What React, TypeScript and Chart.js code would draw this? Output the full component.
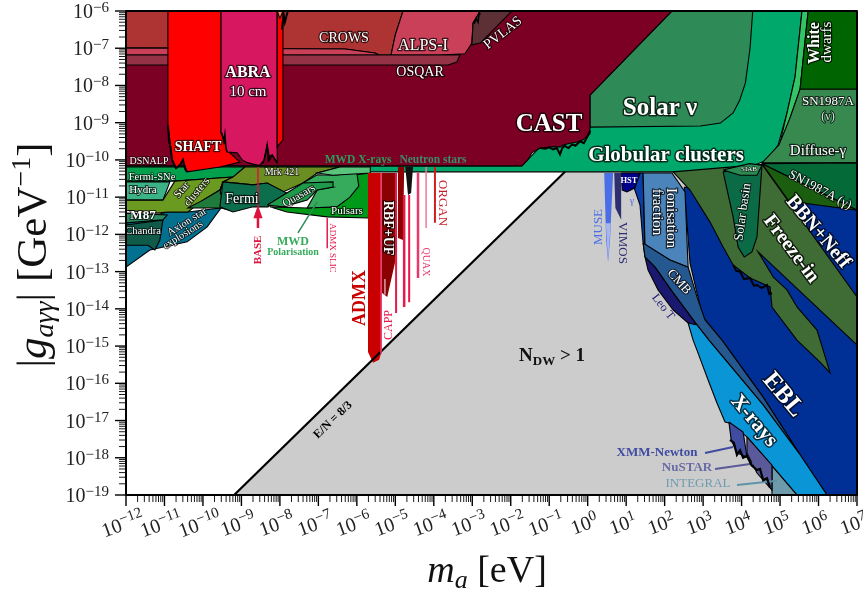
import React, { useEffect, useRef } from "react";
import { Chart, registerables } from "chart.js";
Chart.register(...registerables);

type P = [number, number];
// All regions: [log10(m_a / eV), log10(|g| / GeV^-1)]
const nDW: P[] = [[-9.19,-19],[-0.59,-10.32],[7,-10.32],[7,-19]];
const enLine: P[] = [[-9.19,-19],[-0.59,-10.32]];
const globular: P[] = [[-1.71,-10.16],[0.06,-8.26],[2.19,-6],[5.57,-6],[5.39,-7.77],[5.18,-8.74],[4.95,-9.6],[4.67,-10],[4.41,-10.11],[3.78,-10.27],[3.26,-10.32],[-12,-10.32],[-12,-10.16]];
const solarNu: P[] = [[0.06,-8.26],[2.19,-6],[4.29,-6],[4.22,-7],[4.1,-7.93],[3.95,-8.4],[3.78,-8.74],[3.45,-9.01],[2.93,-9.09],[0.06,-9.12]];
const hbStrip: P[] = [[5.57,-6],[5.73,-6],[5.52,-8.1],[5.26,-8.87],[4.97,-9.66],[5.18,-8.74],[5.39,-7.77]];
const whiteDwarfs: P[] = [[5.73,-6],[7,-6],[7,-8.1],[5.52,-8.1]];
const sn1987nu: P[] = [[5.52,-8.1],[7,-8.1],[7,-10.08],[4.53,-10.08],[4.97,-9.6],[5.26,-8.87]];
const sn1987gamma: P[] = [[4.53,-10.1],[7,-10.08],[7,-11.35]];
const bbn: P[] = [[4.53,-10.1],[7,-11.35],[7,-13.68]];
const ebl: P[] = [[2.51,-10.73],[7,-11.35],[7,-19],[6.22,-19],[5.52,-17.92],[4.56,-16.37],[3.49,-14.84],[3,-14.22],[2.84,-13.57],[2.66,-12.77]];
const freezeIn: P[] = [[2.22,-10.32],[4.53,-10.12],[7,-13.68],[7,-14.97],[4.43,-12.47],[4.82,-13.14],[5.18,-13.49],[5.44,-13.95],[5.96,-14.57],[6.12,-15.11],[6.3,-15.72],[6.04,-15.43],[5.44,-14.84],[4.79,-13.95],[4.74,-13.41],[4.22,-13.17],[3.78,-12.82],[3.52,-12.34],[3.18,-11.67],[2.66,-10.81]];
const solarBasin: P[] = [[3.52,-10.32],[3.78,-11.53],[3.91,-12.34],[4.07,-12.61],[4.27,-12.47],[4.4,-12.07],[4.53,-10.14]];
const siab: P[] = [[3.52,-10.27],[3.96,-10.41],[4.4,-10.41],[4.53,-10.14],[4.2,-10.1]];
const ionisation: P[] = [[1.44,-10.35],[2.19,-10.35],[2.53,-10.86],[2.61,-12.88],[2.14,-12.69],[1.49,-12.29]];
const cmb: P[] = [[1.44,-12.23],[2.14,-12.69],[2.61,-12.88],[2.84,-13.68],[3.05,-14.3],[3.49,-14.84],[4.56,-16.37],[5.52,-17.92],[4.56,-16.58],[3.15,-14.84],[2.84,-14.43],[2.22,-13.57],[1.75,-12.88],[1.49,-12.61]];
const leoT: P[] = [[1.49,-12.61],[1.75,-12.88],[2.22,-13.57],[2.84,-14.43],[2.61,-14.38],[2.22,-14.03],[1.83,-13.49],[1.57,-12.96]];
const gammaStrip: P[] = [[1.36,-10.35],[1.44,-10.35],[1.49,-12.61],[1.44,-12.23],[1.36,-11.21],[1.18,-10.67]];
const xRays: P[] = [[2.61,-14.38],[2.84,-14.43],[3.15,-14.84],[4.56,-16.58],[5.52,-17.92],[6.22,-19],[5.44,-19],[4.82,-18.25],[4.14,-17.44],[3.7,-17.07],[3.57,-17.04],[3.36,-16.53],[3.13,-15.91],[2.84,-15.11],[2.74,-14.84]];
const integral: P[] = [[4.79,-18.22],[5.44,-19],[4.79,-19]];
const nustar: P[] = [[4.14,-17.44],[4.79,-18.2],[4.79,-18.87],[4.4,-18.41],[4.14,-17.87]];
const xmm: P[] = [[3.67,-17.04],[4.04,-17.31],[4.14,-17.98],[3.88,-17.87],[3.73,-17.52]];
const hst: P[] = [[0.87,-10.35],[1.36,-10.35],[1.23,-10.75],[1.02,-10.86],[0.9,-10.81]];
const muse: P[] = [[0.43,-10.35],[0.66,-10.35],[0.58,-12.15],[0.53,-12.74],[0.48,-12.15]];
const museFade: P[] = [[0.47,-11.7],[0.6,-11.7],[0.53,-12.74]];
const vimos: P[] = [[0.69,-10.35],[0.87,-10.35],[0.87,-11.61],[0.72,-11.29]];
const fermiSNe: P[] = [[-12,-10.19],[-8.91,-10.19],[-9.22,-10.46],[-10.73,-10.57],[-12,-10.57]];
const mrk421: P[] = [[-8.91,-10.19],[-6.44,-10.19],[-7.03,-10.35],[-7.4,-10.62],[-7.92,-10.86],[-8.33,-10.62],[-8.7,-10.67],[-9.48,-10.59],[-9.22,-10.46]];
const starClusters: P[] = [[-12,-11.08],[-11.04,-11.08],[-10.73,-10.57],[-9.22,-10.46],[-9.48,-10.59],[-9.56,-10.81],[-10,-11.08],[-10.39,-11.4],[-10.93,-11.4],[-11.19,-11.43],[-12,-11.35]];
const hydra: P[] = [[-12,-10.59],[-10.86,-10.59],[-11.04,-11.08],[-12,-11.08]];
const starDark: P[] = [[-10,-11.08],[-9.56,-10.81],[-9.48,-10.59],[-9.55,-10.89],[-9.3,-11.35],[-9.53,-11.29],[-10.39,-11.29]];
const fermi: P[] = [[-9.48,-10.59],[-8.7,-10.67],[-8.33,-10.62],[-7.82,-10.89],[-8.31,-11.26],[-8.7,-11.26],[-9.22,-11.4],[-9.56,-11.26]];
const quasars: P[] = [[-8.33,-11.21],[-7.82,-10.89],[-7.4,-10.62],[-6.62,-10.59],[-6.62,-10.73],[-7.03,-10.81],[-7.29,-11.08],[-7.92,-11.26]];
const mwdPol: P[] = [[-6.62,-10.41],[-6,-10.35],[-5.95,-10.7],[-6.18,-11],[-6.52,-11.26],[-7.29,-11.29],[-7.03,-10.81],[-6.62,-10.73],[-7.4,-10.62],[-7.03,-10.4]];
const pulsars: P[] = [[-8.26,-11.26],[-7.29,-11.29],[-6.52,-11.26],[-6.1,-10.75],[-6.1,-10.41],[-5.65,-10.35],[-5.7,-11.56],[-6.77,-11.53],[-7.82,-11.4]];
const mwdXrays: P[] = [[-6.44,-10.19],[-5.65,-10.19],[-5.65,-10.35],[-6.62,-10.41],[-7.03,-10.35]];
const m87: P[] = [[-12,-11.43],[-10.93,-11.48],[-11.04,-11.61],[-12,-11.69]];
const axionStars: P[] = [[-12,-11.7],[-10.93,-11.4],[-10.39,-11.4],[-9.53,-11.29],[-9.89,-11.8],[-10.41,-12.2],[-11.38,-12.42],[-12,-12.88]];
const chandra: P[] = [[-12,-11.75],[-11.04,-11.61],[-11.12,-12.15],[-11.25,-12.42],[-11.43,-12.29],[-12,-12.29]];
const cast: P[] = [[-12,-6],[2.19,-6],[0.06,-8.26],[0.06,-9.3],[-0.12,-9.46],[-0.27,-9.52],[-0.45,-9.55],[-0.64,-9.6],[-0.71,-9.65],[-0.9,-9.65],[-1.24,-9.68],[-1.45,-9.81],[-1.56,-10],[-1.71,-10.16],[-12,-10.16]];
const crows: P[] = [[-12,-6],[-4.8,-6],[-5,-6.64],[-5.14,-7.32],[-5.53,-7.13],[-6.3,-7.02],[-12,-6.99]];
const alps: P[] = [[-12,-6.99],[-6.3,-7.02],[-5.53,-7.13],[-5.14,-7.32],[-5,-6.64],[-4.8,-6],[-2.79,-6],[-2.98,-6.32],[-3.01,-6.86],[-3.19,-7.15],[-3.84,-7.18],[-12,-7.18]];
const osqar: P[] = [[-12,-7.18],[-3.32,-7.18],[-3.4,-7.37],[-3.63,-7.45],[-12,-7.45]];
const pvlas: P[] = [[-2.79,-6],[-1.97,-6],[-2.79,-6.86],[-3.01,-6.91],[-2.98,-6.32]];
const shaft: P[] = [[-10.91,-6],[-9.53,-6],[-9.53,-9.28],[-9.3,-9.81],[-9.04,-10.06],[-9.56,-10.19],[-10.41,-10.32],[-10.52,-10],[-10.6,-10.14],[-10.7,-10.22],[-10.8,-10],[-10.86,-9.46],[-10.91,-9.06]];
const abra: P[] = [[-9.53,-6],[-8.07,-6],[-8.07,-10.08],[-8.2,-9.87],[-8.26,-10],[-8.33,-9.6],[-8.41,-10],[-8.52,-10.14],[-8.59,-10.14],[-8.83,-10.08],[-8.98,-10],[-9.11,-9.81],[-9.37,-9.79],[-9.43,-9.55],[-9.51,-9.28]];
const shaftStrip: P[] = [[-8.07,-6],[-7.92,-6],[-7.92,-9.46],[-8.07,-9.65]];
const orangeTip: P[] = [[-8.07,-6],[-7.92,-6],[-8,-6.2]];
const admx: P[] = [[-5.71,-10.35],[-5.37,-10.35],[-5.37,-15.19],[-5.42,-15.37],[-5.58,-15.45],[-5.71,-15.16]];
const rbfUf: P[] = [[-5.35,-10.35],[-4.96,-10.35],[-5.01,-12.77],[-5.21,-13.68],[-5.35,-13.57]];
const darkHaloscope: P[] = [[-4.93,-10.19],[-4.77,-10.19],[-4.8,-12.15],[-4.93,-12.1]];
const blackHaloscope: P[] = [[-4.74,-10.19],[-4.54,-10.19],[-4.59,-10.89],[-4.67,-10.94]];

// Vertical limits and annotation lines
const capp1: P[] = [[-4.98,-10.35],[-4.98,-14.11]];
const capp2: P[] = [[-4.77,-10.94],[-4.77,-13.95]];
const capp3: P[] = [[-4.64,-10.94],[-4.64,-13.82]];
const capp4: P[] = [[-5.27,-13.2],[-5.27,-13.62]];
const capp5: P[] = [[-5.37,-10.35],[-5.37,-15.2]];
const quax1: P[] = [[-4.41,-10.35],[-4.41,-13.17]];
const quax2: P[] = [[-4.2,-10.19],[-4.2,-11.83]];
const organ: P[] = [[-3.97,-10.19],[-3.97,-11.69]];
const admxSlic: P[] = [[-6.77,-11.56],[-6.77,-12.37]];
const baseLine: P[] = [[-8.57,-10.19],[-8.57,-11.26]];
const baseTail: P[] = [[-8.57,-11.4],[-8.57,-11.83]];
const baseHead: P[] = [[-8.57,-11.26],[-8.67,-11.55],[-8.47,-11.55]];
const mwdLeader: P[] = [[-7.53,-11.96],[-7.03,-11.13]];
const xmmLeader: P[] = [[3.05,-17.87],[3.78,-17.71]];
const nustarLeader: P[] = [[3.31,-18.3],[4.4,-18.14]];
const integralLeader: P[] = [[3.88,-18.73],[4.92,-18.62]];
const castNoise: P[] = [[-1.24,-9.68],[-1.1,-9.7],[-1,-9.66],[-0.9,-9.72],[-0.8,-9.68],[-0.72,-9.85],[-0.66,-9.68],[-0.6,-9.62],[-0.5,-9.68],[-0.4,-9.58],[-0.32,-9.62],[-0.2,-9.5],[-0.1,-9.55],[0,-9.36],[0.06,-9.22]];
const eblNoise: P[] = [[3.78,-12.82],[3.86,-12.98],[3.96,-13],[4.06,-13.2],[4.22,-13.17],[4.32,-13.38],[4.4,-13.36],[4.52,-13.44],[4.66,-13.36],[4.72,-13.6],[4.79,-13.58]];
const xrayNoise: P[] = [[3.7,-17.52],[3.8,-17.6],[3.88,-17.92],[3.96,-17.8],[4.04,-18],[4.14,-17.95],[4.26,-18.2],[4.4,-18.33],[4.48,-18.3],[4.56,-18.6],[4.66,-18.55],[4.74,-18.8]];
const shaftNoise: P[] = [[-10.91,-9.06],[-10.88,-9.5],[-10.84,-9.7],[-10.8,-10],[-10.7,-10.22],[-10.6,-10.14],[-10.52,-10],[-10.46,-10.25],[-10.41,-10.32]];
const abraNoise: P[] = [[-9.51,-9.28],[-9.46,-9.5],[-9.43,-9.3],[-9.4,-9.7],[-9.37,-9.79]];
const abraNoise2: P[] = [[-8.45,-10.1],[-8.41,-10],[-8.33,-9.6],[-8.3,-10],[-8.26,-9.9],[-8.2,-9.87],[-8.12,-10],[-8.07,-10.08]];
const topNoise: P[] = [[-7.95,-6.5],[-7.9,-6.1],[-7.87,-6.3],[-7.8,-6.02]];
const pvlasNoise: P[] = [[-2.95,-6.35],[-2.9,-6.2],[-2.85,-6.3],[-2.82,-6.05],[-2.79,-6.1]];

const xTickExponents = [-12,-11,-10,-9,-8,-7,-6,-5,-4,-3,-2,-1,0,1,2,3,4,5,6,7];
const yTickExponents = [-19,-18,-17,-16,-15,-14,-13,-12,-11,-10,-9,-8,-7,-6];
const minorMultipliers = [2,3,4,5,6,7,8,9];

// Painted back to front
const regions: [P[], string, string?][] = [
  [nDW, "#cccccc", "transparent"],
  [globular, "#00a86b"], [solarNu, "#2e8b57"], [hbStrip, "#33c466"],
  [whiteDwarfs, "#006400"], [sn1987nu, "#378950"], [sn1987gamma, "#046b38"], [bbn, "#1b5e0f"],
  [ebl, "#002f96"], [freezeIn, "#3f6b35"], [solarBasin, "#0b6b47"], [siab, "#2a8a50"],
  [gammaStrip, "#0a3fa8"], [ionisation, "#4a84bb"], [cmb, "#25588f"], [leoT, "#191970"],
  [xRays, "#0a96d6"], [integral, "#6e9bab"], [nustar, "#5a5a9a"], [xmm, "#3f4ca0"],
  [hst, "#00008b"], [muse, "#4a6ee6", "transparent"], [museFade, "#a8b6ee", "transparent"], [vimos, "#2e2e72", "transparent"],
  [axionStars, "#02708f"], [chandra, "#0f5a48"], [m87, "#2c8a60"],
  [fermiSNe, "#00a04c"], [hydra, "#3cb386"], [starClusters, "#6a9a1f"], [mrk421, "#6b8e23"],
  [starDark, "#1f7a3c"], [fermi, "#0d6e4e"], [pulsars, "#009a1a"], [mwdPol, "#37ab5c"], [quasars, "#1f9a4a"], [mwdXrays, "#5ac47c"],
  [cast, "#7b0023"], [crows, "#ad3433"], [alps, "#c94058"], [osqar, "#953246"], [pvlas, "#5c3035"],
  [shaft, "#ff0000"], [abra, "#d7175f"], [shaftStrip, "#ff0000"], [orangeTip, "#ff7f50"],
  [admx, "#c80000", "transparent"], [rbfUf, "#8b0000", "transparent"], [darkHaloscope, "#8b0000", "transparent"], [blackHaloscope, "#111111", "transparent"],
  [baseHead, "#dc143c", "#dc143c"],
];
const lines: [P[], string, number][] = [
  [enLine, "#000000", 2.2],
  [capp1, "#e6194b", 2], [capp2, "#e6194b", 2.5], [capp3, "#e6194b", 2], [capp4, "#d9a0a8", 1.5], [capp5, "#e6386c", 1],
  [quax1, "#e8386c", 2.5], [quax2, "#ee7a98", 1.5], [organ, "#cc2020", 2], [admxSlic, "#e6194b", 1.5],
  [baseLine, "#dc143c", 1.5], [baseTail, "#dc143c", 2.5],
  [mwdLeader, "#2e8b57", 1.5], [xmmLeader, "#3f4ca0", 2], [nustarLeader, "#5a5a9a", 2], [integralLeader, "#5f93a8", 2],
  [castNoise, "#000000", 2], [eblNoise, "#000000", 2], [xrayNoise, "#000000", 2.2], [shaftNoise, "#000000", 2], [abraNoise, "#000000", 1.5], [abraNoise2, "#000000", 1.5], [topNoise, "#000000", 2], [pvlasNoise, "#000000", 1.5],
];

type Lab = [string, number, number, number, string, number, boolean, boolean];
const W = "#ffffff";
const labels: Lab[] = [
  ["CROWS",344,38,14,W,0,false,true],["ALPS-I",423,46,16,W,0,false,true],["OSQAR",420,72,14,W,0,false,true],["PVLAS",503,33,14,W,-38,false,true],
  ["ABRA",248,73,16,W,0,true,true],["10 cm",248,92,15,W,0,false,true],["SHAFT",198,147,14,W,0,true,true],["DSNALP",149,161,10,W,0,false,true],
  ["CAST",549,125,25,W,0,true,true],["Solar ν",660,109,25,W,0,true,true],["Globular clusters",666,156,21,W,0,true,true],
  ["White",815,43,16,W,-90,true,true],["dwarfs",827,42,15,W,-90,false,true],["SN1987A",828,102,13,W,0,false,true],["(ν)",828,117,12,"#cfe3d5",0,false,true],["Diffuse-γ",818,151,15,W,0,false,true],
  ["SN1987A (γ)",820,190,13,W,28,false,true],["BBN+Neff",818,232,20,W,50,true,true],["Freeze-in",791,249,20,W,53,true,true],["Solar basin",743,212,13,W,-82,false,true],["SIAB",749,169,7,W,0,false,true],
  ["HST",629,181,8.5,W,0,true,false],["γ",632,201,10,"#4d6bd0",0,false,false],["Ionisation",671,218,15,W,90,false,true],["fraction",657,212,15,W,90,false,true],["CMB",679,282,13,W,48,false,true],
  ["Leo T",663,307,12,"#191970",52,false,false],["MUSE",599,227,13,"#4a6ee6",-90,false,false],["VIMOS",622,243,13,"#2e2e72",90,false,false],
  ["EBL",783,395,25,W,50,true,true],["X-rays",754,421,21,W,50,true,true],
  ["XMM-Newton",657,453,13,"#3f4ca0",0,true,false],["NuSTAR",687,468,13,"#6a6aa5",0,true,false],["INTEGRAL",698,484,13,"#6f9bb0",0,false,false],
  ["E/N = 8/3",333,420,12,"#000000",-44,true,false],["MWD X-rays",358,160,11.5,"#2e9a5e",0,true,false],["Neutron stars",433,160,11.5,"#3e8a6a",0,true,false],
  ["Fermi-SNe",152,177,10.5,W,0,false,true],["Hydra",143,190,11,W,0,false,true],["Star",182,190,11,W,-50,false,true],["clusters",197,192,11,W,-50,false,true],["M87",143,216,13,W,0,true,true],["Chandra",143,231,10.5,W,0,false,true],
  ["Axion star",187,222,10.5,W,-32,false,true],["explosions",183,235,10.5,W,-32,false,true],["Fermi",242,199,14,W,0,false,true],["Mrk 421",282,172,10,W,0,false,true],["Quasars",299,196,11,W,-30,false,true],["Pulsars",347,211,11,W,0,false,true],
  ["BASE",258,250,11,"#dc143c",-90,true,false],["ADMX SLIC",332,248,9,"#e6194b",90,false,false],["MWD",293,242,12,"#37ab5c",0,true,false],["Polarisation",293,252,10,"#37ab5c",0,true,false],
  ["ADMX",360,298,18,"#c80000",-90,true,false],["RBF+UF",388,228,14,W,90,true,true],["CAPP",389,325,12,"#e6194b",-90,false,false],["QUAX",426,262,10,"#e6386c",90,false,false],["ORGAN",442,203,13,"#c81e2a",90,false,false],
];

const FONT = '"Liberation Serif"';
const toPts = (p: P[]) => p.map(([x, y]) => ({ x: 10 ** x, y: 10 ** y }));
const SUP = "\u2212";

function drawRuns(ctx: CanvasRenderingContext2D, runs: [string, string, number][], cx: number, cy: number, rot: number) {
  ctx.save();
  ctx.translate(cx, cy);
  ctx.rotate((rot * Math.PI) / 180);
  ctx.textAlign = "left";
  ctx.textBaseline = "alphabetic";
  let total = 0;
  for (const [t, f] of runs) { ctx.font = f; total += ctx.measureText(t).width; }
  let x = -total / 2;
  for (const [t, f, dy] of runs) {
    ctx.font = f;
    ctx.fillText(t, x, dy);
    x += ctx.measureText(t).width;
  }
  ctx.restore();
}

const chartDecor = {
  id: "chartDecor",
  afterDatasetsDraw(chart: any) {
    const { ctx, chartArea: a, scales } = chart;
    ctx.save();
    // annotations
    ctx.lineJoin = "round";
    ctx.textBaseline = "middle";
    ctx.textAlign = "center";
    for (const [t, x, y, s, c, r, b, h] of labels) {
      ctx.save();
      ctx.translate(x, y);
      ctx.rotate((r * Math.PI) / 180);
      ctx.font = `${b ? "bold " : ""}${s}px ${FONT}`;
      if (h) { ctx.strokeStyle = "rgba(0,0,0,0.7)"; ctx.lineWidth = Math.min(3, s / 6); ctx.strokeText(t, 0, 0); }
      ctx.fillStyle = c;
      ctx.fillText(t, 0, 0);
      ctx.restore();
    }
    ctx.fillStyle = "#111";
    drawRuns(ctx, [["N", `bold 19px ${FONT}`, 0], ["DW", `bold 13px ${FONT}`, 4], [" > 1", `bold 19px ${FONT}`, 0]], 552, 361, 0);
    // frame
    ctx.strokeStyle = "#000";
    ctx.lineWidth = 2;
    ctx.strokeRect(a.left, a.top, a.right - a.left, a.bottom - a.top);
    // ticks
    const tick = (x1: number, y1: number, x2: number, y2: number, w: number) => {
      ctx.lineWidth = w; ctx.beginPath(); ctx.moveTo(x1, y1); ctx.lineTo(x2, y2); ctx.stroke();
    };
    for (const e of xTickExponents) {
      const px = scales.x.getPixelForValue(10 ** e);
      tick(px, a.bottom, px, a.bottom + 11, 1.4);
      if (e < 7) for (const m of minorMultipliers) {
        const q = scales.x.getPixelForValue(m * 10 ** e);
        tick(q, a.bottom, q, a.bottom + 7, 0.9);
      }
      ctx.fillStyle = "#222";
      const ss = String(e).replace("-", SUP);
      drawRuns(ctx, [["10", `20px ${FONT}`, 0], [ss, `15px ${FONT}`, -7]], px - 1, 530, -20);
    }
    for (const e of yTickExponents) {
      const py = scales.y.getPixelForValue(10 ** e);
      tick(a.left - 11, py, a.left, py, 1.4);
      if (e < -6) for (const m of minorMultipliers) {
        const q = scales.y.getPixelForValue(m * 10 ** e);
        tick(a.left - 7, q, a.left, q, 0.9);
      }
      ctx.fillStyle = "#222";
      ctx.textAlign = "right";
      ctx.textBaseline = "alphabetic";
      const ss = String(e).replace("-", SUP);
      ctx.font = `15px ${FONT}`;
      const w = ctx.measureText(ss).width;
      ctx.fillText(ss, 109, py + 1);
      ctx.font = `20px ${FONT}`;
      ctx.fillText("10", 109 - w, py + 7);
    }
    // axis titles
    ctx.fillStyle = "#111";
    drawRuns(ctx, [
      ["|", `43px ${FONT}`, 0], ["g", `italic 43px ${FONT}`, 0], ["aγγ", `italic 28px ${FONT}`, 7],
      ["| [GeV", `43px ${FONT}`, 0], [SUP + "1", `28px ${FONT}`, -16], ["]", `43px ${FONT}`, 0],
    ], 46, 255, -90);
    drawRuns(ctx, [["m", `italic 38px ${FONT}`, 0], ["a", `italic 26px ${FONT}`, 6], [" [eV]", `38px ${FONT}`, 0]], 487, 582, 0);
    ctx.restore();
  },
};

export default function App() {
  const ref = useRef<HTMLCanvasElement>(null);
  useEffect(() => {
    document.body.style.margin = "0";
    const datasets: any[] = [
      ...regions.map(([p, fill, stroke]) => ({
        data: toPts([...p, p[0]]), showLine: true, fill: "shape", backgroundColor: fill,
        borderColor: stroke ?? "#000000", borderWidth: 1.1, pointRadius: 0, tension: 0,
      })),
      ...lines.map(([p, c, w]) => ({
        data: toPts(p), showLine: true, fill: false, borderColor: c, borderWidth: w, pointRadius: 0, tension: 0,
      })),
    ];
    datasets.forEach((d, i) => { d.order = datasets.length - i; });
    const chart = new Chart(ref.current!, {
      type: "scatter",
      data: { datasets },
      plugins: [chartDecor],
      options: {
        animation: false, responsive: false,
        layout: { padding: { left: 126, top: 11, right: 10, bottom: 97 } },
        plugins: { legend: { display: false }, tooltip: { enabled: false }, title: { display: false } },
        scales: {
          x: { type: "logarithmic", min: 1e-12, max: 1e7, grid: { display: false, drawTicks: false }, border: { display: false }, ticks: { display: false } },
          y: { type: "logarithmic", min: 1e-19, max: 1e-6, grid: { display: false, drawTicks: false }, border: { display: false }, ticks: { display: false } },
        },
      } as any,
    });
    return () => chart.destroy();
  }, []);
  return (
    <div style={{ position: "fixed", left: 0, top: 0, width: 867, height: 592, background: "#fff" }}>
      <canvas ref={ref} width={867} height={592} style={{ display: "block" }} />
    </div>
  );
}
